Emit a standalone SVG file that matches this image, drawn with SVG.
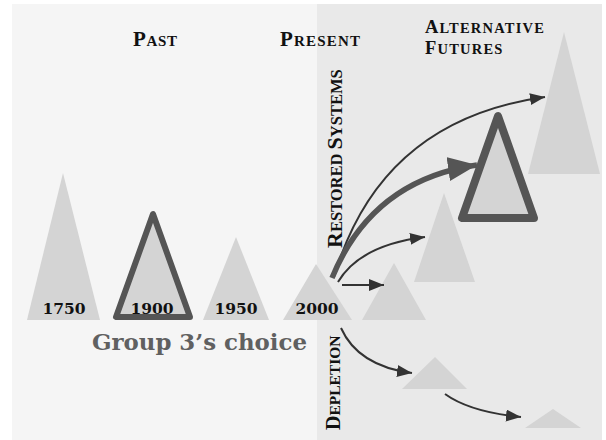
<svg xmlns="http://www.w3.org/2000/svg" width="606" height="440" viewBox="0 0 606 440">
<defs>
<style>
.tri{fill:#d4d4d4;stroke:none}
.sel{fill:#d4d4d4;stroke:#555;stroke-linejoin:round}
.hd{font-family:"Liberation Serif","Times New Roman",serif;font-weight:bold;fill:#111}
.yr{font-family:"DejaVu Serif",Georgia,serif;font-weight:bold;font-size:15.5px;fill:#111;text-anchor:middle}
.arr{fill:none;stroke:#333;stroke-width:2}
</style>
<marker id="ah" markerUnits="userSpaceOnUse" markerWidth="16" markerHeight="12" refX="15" refY="6" orient="auto"><path d="M0,0 L15,6 L0,12 Z" fill="#333"/></marker>
<marker id="ahb" markerUnits="userSpaceOnUse" markerWidth="30" markerHeight="24" refX="29" refY="12" orient="auto"><path d="M0,0 L29,12 L0,24 Z" fill="#555"/></marker>
</defs>
<rect x="0" y="0" width="606" height="440" fill="#ffffff"/>
<rect x="12" y="4" width="305" height="436" fill="#f5f5f5"/>
<rect x="317" y="4" width="285" height="436" fill="#e9e9e9"/>

<g id="headers">
<text class="hd" x="133" y="46" style="font-size:21px;letter-spacing:0.7px">P<tspan style="font-size:15px">AST</tspan></text>
<text class="hd" x="280" y="46" style="font-size:21px;letter-spacing:1.2px">P<tspan style="font-size:15px">RESENT</tspan></text>
<text class="hd" x="425" y="33" style="font-size:18.5px;letter-spacing:1.2px">A<tspan style="font-size:14.5px">LTERNATIVE</tspan></text>
<text class="hd" x="425" y="54" style="font-size:18.5px;letter-spacing:1.2px">F<tspan style="font-size:14.5px">UTURES</tspan></text>
<text class="hd" transform="translate(341.5,248) rotate(-90)" style="font-size:22px">R<tspan style="font-size:16.5px">ESTORED </tspan>S<tspan style="font-size:16.5px">YSTEMS</tspan></text>
<text class="hd" transform="translate(340,430) rotate(-90)" style="font-size:20px">D<tspan style="font-size:15.5px">EPLETION</tspan></text>
</g>

<g id="t1750"><polygon class="tri" points="63,173 27,320 100,320"/><text class="yr" x="64" y="314">1750</text></g>
<g id="t1900"><polygon class="sel" stroke-width="6" points="153,214 116,317 190,317"/><text class="yr" x="152" y="314">1900</text></g>
<g id="t1950"><polygon class="tri" points="236,237 203,320 269,320"/><text class="yr" x="236" y="314">1950</text></g>
<g id="t2000"><polygon class="tri" points="316,264 283,320 352,320"/><text class="yr" x="317" y="314">2000</text></g>

<g id="f1"><polygon class="tri" points="394,263 362,320 426,320"/></g>
<g id="f2"><polygon class="tri" points="444,193 414,282 475,282"/></g>
<g id="f4"><polygon class="tri" points="564,32 528,174 600,174"/></g>
<g id="f3"><polygon class="sel" stroke-width="8" points="498,116 462,218 534,218"/></g>
<g id="d1"><polygon class="tri" points="435,357 402,389 467,389"/></g>
<g id="d2"><polygon class="tri" points="553,409 525,428 581,428"/></g>

<g id="connectors">
<path class="arr" d="M342,285 H384" marker-end="url(#ah)"/>
<path class="arr" d="M338,282 Q360,245 425,237" marker-end="url(#ah)"/>
<path class="arr" d="M334,277 Q380,120 545,97" marker-end="url(#ah)"/>
<path d="M332,278 Q372,180 477,165" fill="none" stroke="#555" stroke-width="5.5" marker-end="url(#ahb)"/>
<path class="arr" d="M341,328 Q358,366 412,373" marker-end="url(#ah)"/>
<path class="arr" d="M445,394 Q470,412 521,417" marker-end="url(#ah)"/>
</g>

<g id="label"><text x="92" y="350" style="font-family:'DejaVu Serif',Georgia,serif;font-weight:bold;font-size:23px;fill:#606060" textLength="215" lengthAdjust="spacingAndGlyphs">Group 3’s choice</text></g>
</svg>
